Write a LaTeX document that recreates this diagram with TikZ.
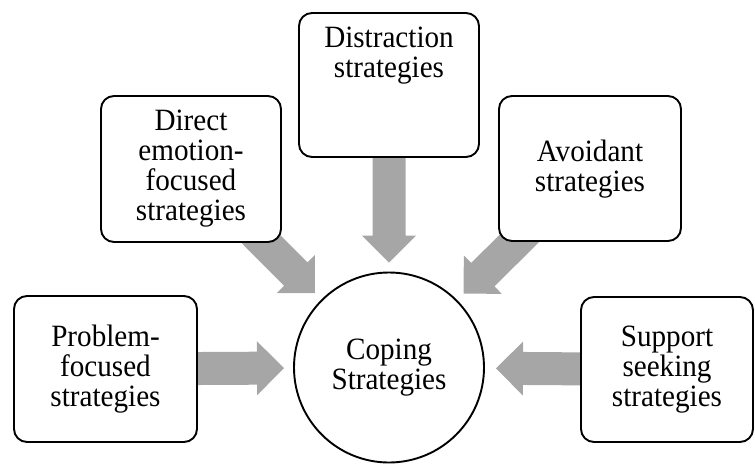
\documentclass[tikz,border=0pt]{standalone}
\usepackage{fontspec}
\setmainfont{Liberation Serif}[FakeStretch=0.94]
\usetikzlibrary{calc,backgrounds}
\definecolor{arrowgray}{RGB}{166,166,166}
\newcommand{\blockarrow}[2]{%
  \coordinate (h#2) at ($(#2)!27pt!(#1.center)$);
  \fill[arrowgray] ($(#1.center)!16.5pt!90:(#2)$) -- ($(h#2)!16.5pt!90:(#2)$) -- ($(h#2)!27pt!90:(#2)$) -- (#2) -- ($(h#2)!27pt!-90:(#2)$) -- ($(h#2)!16.5pt!-90:(#2)$) -- ($(#1.center)!16.5pt!-90:(#2)$) -- cycle;}
\begin{document}
\begin{tikzpicture}[x=1pt,y=-1pt,
  box/.style={draw=black,line width=1.9pt,rounded corners=13pt,fill=white,inner sep=0pt},
  lbl/.style={align=center,font=\fontsize{31}{30}\selectfont,inner sep=0pt}]
\useasboundingbox (0,0) rectangle (755,464);
% boxes
\node[box,minimum width=183pt,minimum height=146pt] (prob) at (105.5,369) {};
\node[box,minimum width=180pt,minimum height=146pt] (direct) at (191,169) {};
\node[box,minimum width=180pt,minimum height=144pt] (dist) at (389,85) {};
\node[box,minimum width=182pt,minimum height=145pt] (avoid) at (590,168.5) {};
\node[box,minimum width=172pt,minimum height=145pt] (supp) at (667,369.5) {};
\node[draw=black,line width=1.9pt,circle,fill=white,minimum size=190pt,inner sep=0pt] (core) at (389,367.5) {};
% labels
\node[lbl] (tprob) at (105.5,369) {Problem-\\focused\\strategies};
\node[lbl] (tdirect) at (191,169) {Direct\\emotion-\\focused\\strategies};
\node[lbl] (tdist) at (389,56) {Distraction\\strategies};
\node[lbl] (tavoid) at (590,169) {Avoidant\\strategies};
\node[lbl] (tsupp) at (667,369.5) {Support\\seeking\\strategies};
\node[lbl] (tcore) at (389,367.5) {Coping\\Strategies};
% arrows
\coordinate (tp) at ($(core.center)!105pt!(prob.center)$);
\coordinate (td) at ($(core.center)!105pt!(direct.center)$);
\coordinate (ti) at ($(core.center)!105pt!(dist.center)$);
\coordinate (ta) at ($(core.center)!105pt!(avoid.center)$);
\coordinate (ts) at ($(core.center)!107pt!(supp.center)$);
\begin{pgfonlayer}{background}
\blockarrow{prob}{tp}
\blockarrow{direct}{td}
\blockarrow{dist}{ti}
\blockarrow{avoid}{ta}
\blockarrow{supp}{ts}
\end{pgfonlayer}
\end{tikzpicture}
\end{document}
